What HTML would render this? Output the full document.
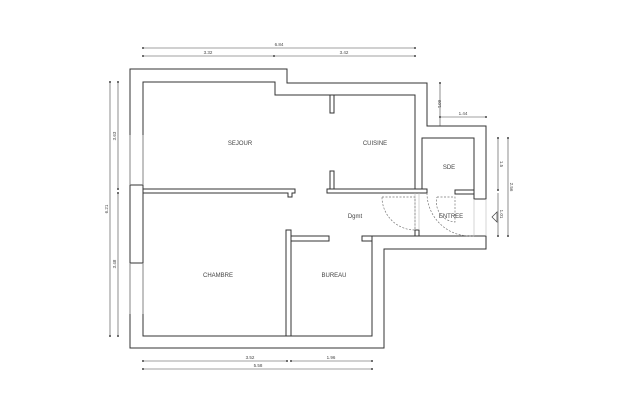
<!DOCTYPE html>
<html><head><style>body{margin:0;background:#fff}svg{display:block}text{font-family:"Liberation Sans",sans-serif;font-size:6px;fill:#444}</style></head><body>
<svg width="618" height="412" viewBox="0 0 618 412">
<g fill="#fff" stroke="#333" stroke-width="1">
<!-- top/left upper wall -->
<path d="M130,185 V69 H287 V83 H427 V126 H486 V199 H474 V138 H422 V190 H415 V95 H275 V82 H143 V185 Z"/>
<!-- lower outer wall -->
<path d="M130,263 V348 H384 V249 H486 V236 H372 V336 H143 V263 Z"/>
<!-- left wall between windows -->
<rect x="130" y="185" width="13" height="78"/>
<!-- chambre top wall -->
<path d="M143,189 H295 V193 H292 V197 H288 V193 H143 Z"/>
<!-- kitchen bottom wall -->
<rect x="327" y="189" width="100" height="4"/>
<!-- kitchen stubs -->
<rect x="330" y="95" width="4" height="18"/>
<rect x="330" y="171" width="4" height="18"/>
<!-- sde stub -->
<rect x="455" y="190" width="19" height="4"/>
<!-- chambre/bureau wall -->
<rect x="286" y="230" width="5" height="106"/>
<rect x="291" y="236" width="38" height="5"/>
<rect x="362" y="236" width="10" height="5"/>
<!-- door jamb -->
<rect x="415" y="230" width="4" height="6"/>
</g>
<g stroke="#bbb" stroke-width="0.6" fill="none">
<line x1="130" y1="185" x2="130" y2="135"/><line x1="143" y1="185" x2="143" y2="135"/>
<line x1="130" y1="314" x2="130" y2="263"/><line x1="143" y1="314" x2="143" y2="263"/>
<line x1="415" y1="193" x2="415" y2="230"/><line x1="419" y1="193" x2="419" y2="230"/>
<line x1="474" y1="199" x2="474" y2="236"/><line x1="486" y1="199" x2="486" y2="236"/>
</g>
<g stroke="#777" stroke-width="0.7" fill="none" stroke-dasharray="2,1.5">
<path d="M382,197 H415 V230 A33,33 0 0 1 382,197"/>
<path d="M427,193 A43,43 0 0 0 470,236 H474"/>
<path d="M437,197 H455 V222 A20,20 0 0 1 437,197"/>
</g>
<g stroke="#444" stroke-width="0.6" fill="#444">
<line x1="143" y1="48" x2="415" y2="48"/>
<line x1="143" y1="56" x2="415" y2="56"/>
<line x1="110" y1="82" x2="110" y2="336"/>
<line x1="118" y1="82" x2="118" y2="189"/><line x1="118" y1="193" x2="118" y2="336"/>
<line x1="143" y1="361" x2="287" y2="361"/><line x1="291" y1="361" x2="372" y2="361"/>
<line x1="143" y1="369" x2="372" y2="369"/>
<line x1="440" y1="83" x2="440" y2="126"/><line x1="440" y1="117" x2="486" y2="117"/>
<line x1="498" y1="138" x2="498" y2="190"/><line x1="498" y1="193" x2="498" y2="236"/>
<line x1="508" y1="138" x2="508" y2="236"/>
<g stroke="none">
<circle cx="143" cy="48" r="1"/><circle cx="415" cy="48" r="1"/>
<circle cx="143" cy="56" r="1"/><circle cx="274" cy="56" r="1"/><circle cx="415" cy="56" r="1"/>
<circle cx="110" cy="82" r="1"/><circle cx="110" cy="336" r="1"/>
<circle cx="118" cy="82" r="1"/><circle cx="118" cy="189" r="1"/><circle cx="118" cy="193" r="1"/><circle cx="118" cy="336" r="1"/>
<circle cx="143" cy="361" r="1"/><circle cx="287" cy="361" r="1"/><circle cx="291" cy="361" r="1"/><circle cx="372" cy="361" r="1"/>
<circle cx="143" cy="369" r="1"/><circle cx="372" cy="369" r="1"/>
<circle cx="440" cy="83" r="1"/><circle cx="440" cy="117" r="1"/><circle cx="486" cy="117" r="1"/>
<circle cx="498" cy="138" r="1"/><circle cx="498" cy="190" r="1"/><circle cx="498" cy="236" r="1"/>
<circle cx="508" cy="138" r="1"/><circle cx="508" cy="236" r="1"/>
</g>
</g>
<path d="M492,217 L497,212 V222 Z" fill="none" stroke="#444" stroke-width="0.7"/>
<g font-size="4.5" style="font-size:4.5px">
<text x="279" y="46" text-anchor="middle" style="font-size:4.5px">6.84</text>
<text x="208" y="54" text-anchor="middle" style="font-size:4.5px">3.32</text>
<text x="344" y="54" text-anchor="middle" style="font-size:4.5px">3.42</text>
<text x="250" y="359" text-anchor="middle" style="font-size:4.5px">3.52</text>
<text x="331" y="359" text-anchor="middle" style="font-size:4.5px">1.96</text>
<text x="258" y="367" text-anchor="middle" style="font-size:4.5px">5.58</text>
<text x="463" y="115" text-anchor="middle" style="font-size:4.5px">1.44</text>
<text transform="translate(108,209) rotate(-90)" text-anchor="middle" style="font-size:4.5px">6.21</text>
<text transform="translate(116,136) rotate(-90)" text-anchor="middle" style="font-size:4.5px">3.63</text>
<text transform="translate(116,264) rotate(-90)" text-anchor="middle" style="font-size:4.5px">3.48</text>
<text transform="translate(438,104) rotate(90)" text-anchor="middle" style="font-size:4.5px">60'1</text>
<text transform="translate(500,164) rotate(90)" text-anchor="middle" style="font-size:4.5px">1.5</text>
<text transform="translate(500,214) rotate(90)" text-anchor="middle" style="font-size:4.5px">1.01</text>
<text transform="translate(510,187) rotate(90)" text-anchor="middle" style="font-size:4.5px">2.56</text>
</g>
<text x="240" y="145" text-anchor="middle">SEJOUR</text>
<text x="375" y="145" text-anchor="middle">CUISINE</text>
<text x="449" y="169" text-anchor="middle">SDE</text>
<text x="355" y="218" text-anchor="middle">Dgmt</text>
<text x="451" y="218" text-anchor="middle">ENTREE</text>
<text x="218" y="277" text-anchor="middle">CHAMBRE</text>
<text x="334" y="277" text-anchor="middle">BUREAU</text>
</svg>
</body></html>
